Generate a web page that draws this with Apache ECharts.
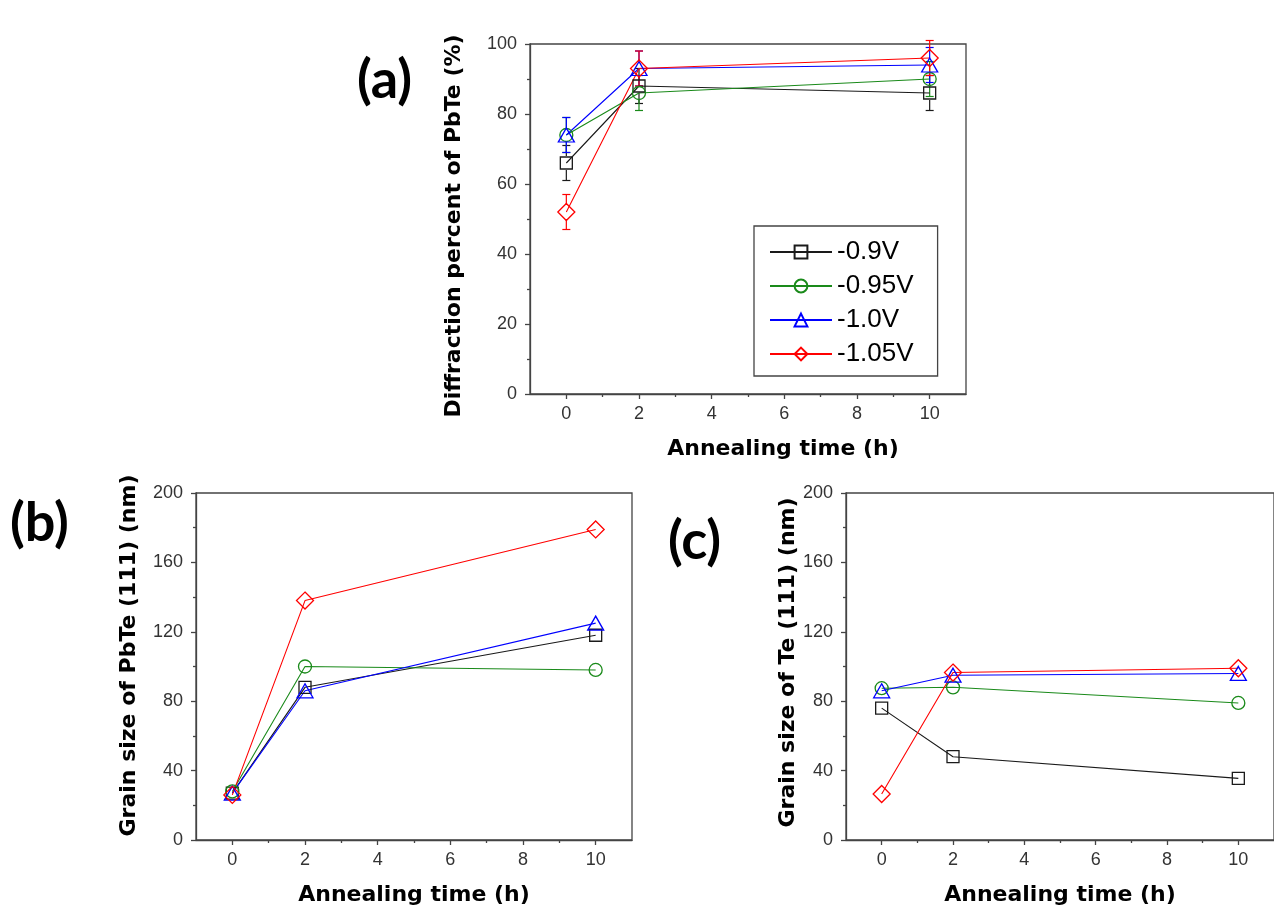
<!DOCTYPE html>
<html>
<head>
<meta charset="utf-8">
<script src="https://cdn.jsdelivr.net/npm/echarts@6/dist/echarts.min.js"></script>
<style>html,body{margin:0;padding:0;background:#fff;}#c{width:1274px;height:907px;}</style>
</head>
<body>
<div id="c"></div>
<script>
// ---- data ----
var times = [0, 2, 10];
var seriesNames = ['-0.9V', '-0.95V', '-1.0V', '-1.05V'];
var xMajorTicks = [0, 2, 4, 6, 8, 10];
var xMinorTicks = [1, 3, 5, 7, 9];

// (a) Diffraction percent of PbTe (%)
var diffM090 = [66, 88, 86];
var diffM095 = [74, 86, 90];
var diffM100 = [74, 93, 94];
var diffM105 = [52, 93, 96];
var errM090 = [5, 5, 5];
var errM095 = [5, 5, 5];
var errM100 = [5, 5, 5];
var errM105 = [5, 5, 5];

// (b) Grain size of PbTe (111) (nm)
var pbteM090 = [27, 88, 118];
var pbteM095 = [28, 100, 98];
var pbteM100 = [27, 86, 125];
var pbteM105 = [26, 138, 179];

// (c) Grain size of Te (111) (nm)
var teM090 = [76, 48, 35.5];
var teM095 = [87.5, 88, 79];
var teM100 = [86, 95, 96];
var teM105 = [26.5, 96.5, 99];

// ---- styles ----
var colors = ['#1a1a1a', '#1a8a1a', '#0000ff', '#ff0000'];
var symbols = ['rect', 'circle', 'triangle', 'diamond'];
var symSizes = [12, 13, [16, 14], 17];
var FONT = 'Liberation Sans';
var TITLEFONT = 'DejaVu Sans';

var chart = echarts.init(document.getElementById('c'), null, {renderer: 'canvas'});

var grids = [
  {left: 530, top: 44, width: 436, height: 350},
  {left: 196, top: 493, width: 436, height: 348},
  {left: 846, top: 493, width: 436, height: 348}
];
var yMax = [100, 200, 200];
var yInt = [20, 40, 40];
var yNames = ['Diffraction percent of PbTe (%)', 'Grain size of PbTe (111) (nm)', 'Grain size of Te (111) (nm)'];
var yGaps = [65, 56, 47];
var yNamePad = [[0, 14, 0, 0], [0, 0, 0, 22], [0, 0, 0, 8]];
var xNamePad = [[0, 0, 0, 70], [0, 0, 0, 0], [0, 0, 0, 0]];

var xAxes = [], yAxes = [], series = [];
grids.forEach(function (g, gi) {
  xAxes.push({
    gridIndex: gi, type: 'value', position: 'bottom', min: -1, max: 11,
    name: 'Annealing time (h)', nameLocation: 'middle', nameGap: 44,
    nameTextStyle: {fontFamily: TITLEFONT, fontWeight: 'bold', fontSize: 22, color: '#000', padding: xNamePad[gi]},
    axisLine: {show: true, onZero: false, lineStyle: {color: '#444', width: 1.3}},
    axisTick: {show: true, length: 5, customValues: xMajorTicks, lineStyle: {color: '#444', width: 1.3}},
    axisLabel: {show: true, customValues: xMajorTicks, margin: 11, fontFamily: FONT, fontSize: 18, color: '#333'},
    splitLine: {show: false}
  });
  xAxes.push({
    gridIndex: gi, type: 'value', position: 'bottom', min: -1, max: 11,
    axisLine: {show: false, onZero: false},
    axisTick: {show: true, length: 3, customValues: xMinorTicks, lineStyle: {color: '#444', width: 1.3}},
    axisLabel: {show: false},
    splitLine: {show: false}
  });
  yAxes.push({
    gridIndex: gi, type: 'value', min: 0, max: yMax[gi], interval: yInt[gi],
    name: yNames[gi], nameLocation: 'middle', nameGap: yGaps[gi],
    nameTextStyle: {fontFamily: TITLEFONT, fontWeight: 'bold', fontSize: 22, color: '#000', padding: yNamePad[gi]},
    axisLine: {show: true, onZero: false, lineStyle: {color: '#444', width: 1.3}},
    axisTick: {show: true, length: 5, lineStyle: {color: '#444', width: 1.3}},
    minorTick: {show: true, splitNumber: 2, length: 3, lineStyle: {color: '#444', width: 1.3}},
    axisLabel: {margin: 13, fontFamily: FONT, fontSize: 18, color: '#333'},
    splitLine: {show: false}, minorSplitLine: {show: false}
  });
});

var panelData = [
  [diffM090, diffM095, diffM100, diffM105],
  [pbteM090, pbteM095, pbteM100, pbteM105],
  [teM090, teM095, teM100, teM105]
];
var errData = [errM090, errM095, errM100, errM105];

panelData.forEach(function (arrs, gi) {
  arrs.forEach(function (vals, si) {
    series.push({
      type: 'line', name: seriesNames[si],
      xAxisIndex: gi * 2, yAxisIndex: gi,
      data: times.map(function (t, i) { return [t, vals[i]]; }),
      symbol: symbols[si], symbolSize: symSizes[si],
      showSymbol: true, animation: false, clip: false,
      color: colors[si],
      lineStyle: {color: colors[si], width: 1.1},
      itemStyle: {color: 'rgba(255,255,255,0)', borderColor: colors[si], borderWidth: 1.3},
      emphasis: {disabled: true}
    });
  });
});

// error bars on panel (a)
panelData[0].forEach(function (vals, si) {
  var c = colors[si];
  series.push({
    type: 'custom', xAxisIndex: 0, yAxisIndex: 0, silent: true, animation: false, clip: false,
    data: times.map(function (t, i) { return [t, vals[i], errData[si][i]]; }),
    encode: {x: 0, y: 1},
    renderItem: function (params, api) {
      var x = api.value(0), y = api.value(1), e = api.value(2);
      var pc = api.coord([x, y]);
      var pt = api.coord([x, y + e]);
      var pb = api.coord([x, y - e]);
      var r = 7, w = 4;
      var st = {stroke: c, lineWidth: 1.2};
      return {type: 'group', children: [
        {type: 'line', shape: {x1: pc[0], y1: pc[1] - r, x2: pt[0], y2: pt[1]}, style: st},
        {type: 'line', shape: {x1: pc[0], y1: pc[1] + r, x2: pb[0], y2: pb[1]}, style: st},
        {type: 'line', shape: {x1: pt[0] - w, y1: pt[1], x2: pt[0] + w, y2: pt[1]}, style: st},
        {type: 'line', shape: {x1: pb[0] - w, y1: pb[1], x2: pb[0] + w, y2: pb[1]}, style: st}
      ]};
    }
  });
});

var option = {
  backgroundColor: '#fff',
  animation: false,
  grid: grids.map(function (g) {
    return {left: g.left, top: g.top, width: g.width, height: g.height, show: true,
      borderColor: '#444', borderWidth: 1.3, backgroundColor: 'transparent', containLabel: false};
  }),
  xAxis: xAxes,
  yAxis: yAxes,
  legend: {
    data: seriesNames, orient: 'vertical', left: 754, top: 226,
    itemWidth: 62, itemHeight: 16, itemGap: 8,
    padding: [13, 24, 9, 15],
    borderColor: '#444', borderWidth: 1.3, backgroundColor: '#fff',
    textStyle: {fontFamily: FONT, fontSize: 26, color: '#000'},
    selectedMode: false
  },
  graphic: [
    {type: 'text', left: 357, top: 54, style: {text: '(a)', font: 'bold 54px Lato', fill: '#000'}},
    {type: 'text', left: 10, top: 497, style: {text: '(b)', font: 'bold 54px Lato', fill: '#000'}},
    {type: 'text', left: 668, top: 515, style: {text: '(c)', font: 'bold 54px Lato', fill: '#000'}}
  ],
  series: series
};
chart.setOption(option);
</script>
</body>
</html>
